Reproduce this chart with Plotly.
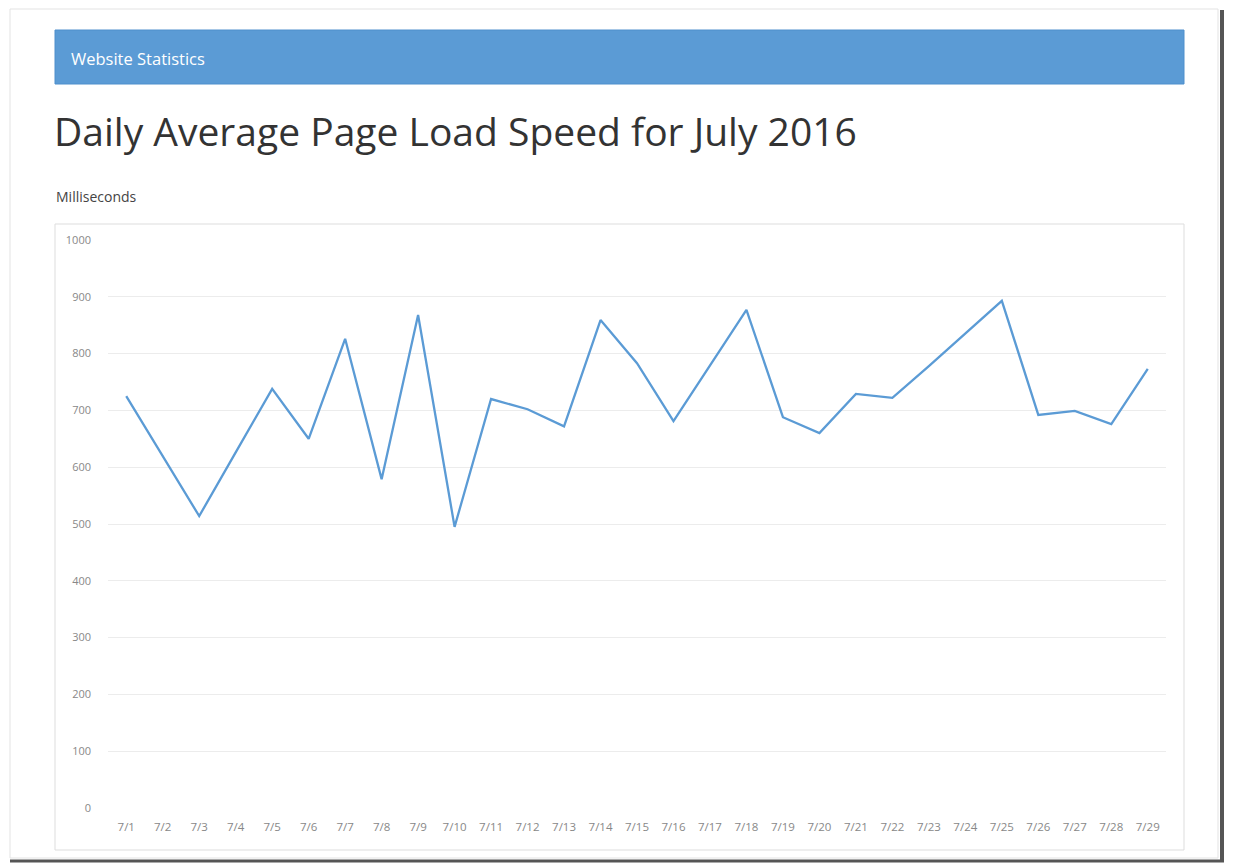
import plotly.graph_objects as go

days = ["7/1", "7/2", "7/3", "7/4", "7/5", "7/6", "7/7", "7/8", "7/9", "7/10",
        "7/11", "7/12", "7/13", "7/14", "7/15", "7/16", "7/17", "7/18", "7/19", "7/20",
        "7/21", "7/22", "7/23", "7/24", "7/25", "7/26", "7/27", "7/28", "7/29"]
load_ms = [725, 620, 514, 626, 738, 650, 826, 579, 868, 495,
           720, 702, 672, 859, 783, 681, 780, 877, 688, 660,
           729, 722, 778, 835, 893, 692, 699, 676, 773]
y_ticks = [0, 100, 200, 300, 400, 500, 600, 700, 800, 900, 1000]

OFF = 8  # page body margin
W, H = 1233 - OFF, 863 - OFF
# plot area in screen pixels
SL, SR, ST, SB = 108, 1166, 240, 808
L, R, T, B = SL - OFF, SR - OFF, ST - OFF, SB - OFF


def px(x):
    return (x - OFF - L) / (R - L)


def py(y):
    return (B - (y - OFF)) / (B - T)


fig = go.Figure()
fig.add_trace(go.Scatter(
    x=days, y=load_ms, mode="lines",
    line=dict(color="#5b9bd5", width=2.3),
    hoverinfo="x+y", showlegend=False,
))

shapes = [
    # page card
    dict(type="rect", xref="paper", yref="paper", x0=px(10), x1=px(1218), y0=py(858), y1=py(9),
         line=dict(color="#e3e3e3", width=1), fillcolor="rgba(0,0,0,0)", layer="below"),
    # window shadow right/bottom
    dict(type="line", xref="paper", yref="paper", x0=px(1222), x1=px(1222), y0=py(862), y1=py(10),
         line=dict(color="#555555", width=4)),
    dict(type="line", xref="paper", yref="paper", x0=px(10), x1=px(1224), y0=py(861), y1=py(861),
         line=dict(color="#555555", width=3)),
    # header bar
    dict(type="rect", xref="paper", yref="paper", x0=px(55), x1=px(1184), y0=py(84), y1=py(30),
         line=dict(color="#4f8fcc", width=1), fillcolor="#5b9bd5", layer="below"),
    # chart box
    dict(type="rect", xref="paper", yref="paper", x0=px(55), x1=px(1184), y0=py(850), y1=py(224),
         line=dict(color="#dddddd", width=1), fillcolor="rgba(0,0,0,0)", layer="below"),
]

annotations = [
    dict(text="Website Statistics", xref="paper", yref="paper", x=px(69), y=py(58),
         xanchor="left", yanchor="middle", showarrow=False,
         font=dict(family="Open Sans", size=16.5, color="#ffffff")),
    dict(text="Daily Average Page Load Speed for July 2016", xref="paper", yref="paper",
         x=px(52), y=py(131), xanchor="left", yanchor="middle", showarrow=False,
         font=dict(family="Open Sans", size=39, color="#333333")),
    dict(text="Milliseconds", xref="paper", yref="paper", x=px(54), y=py(196),
         xanchor="left", yanchor="middle", showarrow=False,
         font=dict(family="Open Sans", size=14, color="#444444")),
]

fig.update_layout(
    width=W, height=H,
    margin=dict(l=L, r=W - R, t=T, b=H - B, pad=0),
    paper_bgcolor="#ffffff", plot_bgcolor="#ffffff",
    shapes=shapes, annotations=annotations,
    xaxis=dict(type="category", range=[-0.5, len(days) - 0.5], showgrid=False,
               showline=False, zeroline=False, ticks="",
               ticklabelstandoff=10,
               tickfont=dict(family="Open Sans", size=11.5, color="#888888"),
               fixedrange=True),
    yaxis=dict(range=[0, 1000], tickvals=y_ticks, showgrid=True, gridcolor="#ececec",
               gridwidth=1, zeroline=False, showline=False, ticks="",
               ticklabelstandoff=16,
               tickfont=dict(family="Open Sans", size=11, color="#888888"),
               fixedrange=True),
)

fig.write_html("out.html")
